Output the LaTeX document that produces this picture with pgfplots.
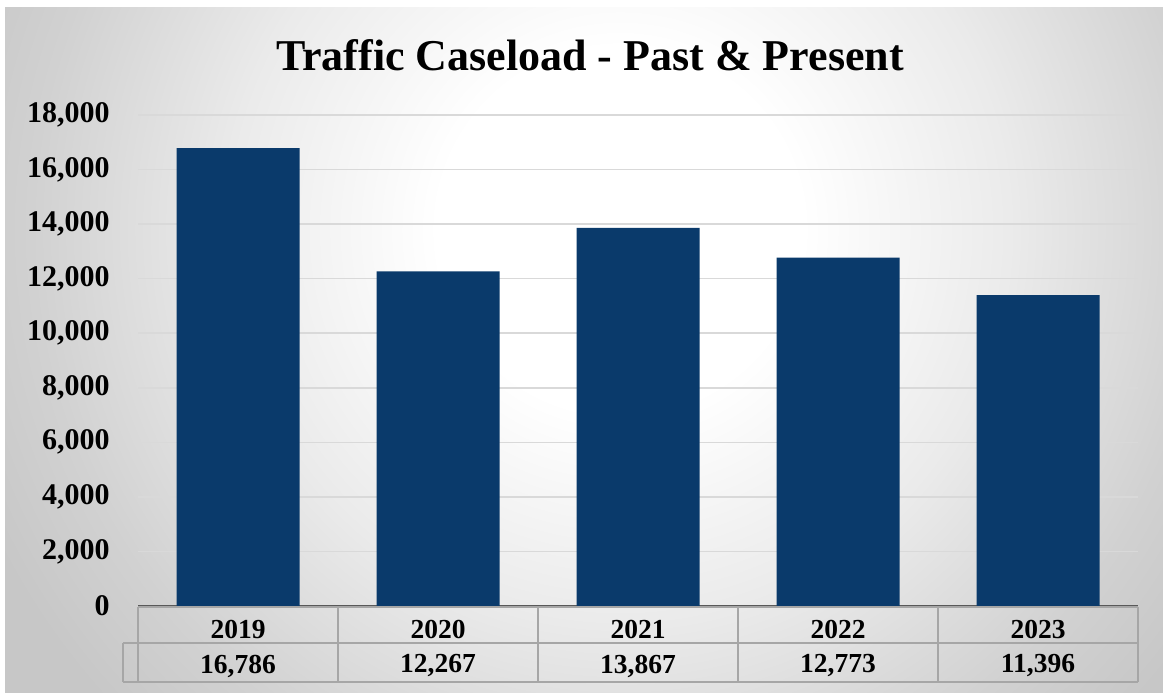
\documentclass[border=0pt]{standalone}
\usepackage{fontspec}
\setmainfont{Liberation Serif}
\usepackage{pgfplots}
\pgfplotsset{compat=1.18}
\definecolor{barblue}{HTML}{0A3A6B}
\definecolor{gridgray}{HTML}{D9D9D9}
\definecolor{tablegray}{HTML}{A6A6A6}
\definecolor{axisgray}{HTML}{595959}
% tikz maps +-25bp of the shading onto the path box
\pgfdeclareradialshading{bgshade}{\pgfpoint{0bp}{0bp}}{color(0bp)=(white); color(6.5bp)=(white); color(14bp)=(black!8); color(21bp)=(black!18); color(25bp)=(black!22); color(50bp)=(black!22)}

\begin{document}
\begin{tikzpicture}
% background (1px = 0.5pt, origin top-left)
\useasboundingbox (0,0) rectangle (581.5pt,-346pt);
\fill[white] (0,0) rectangle (581.5pt,-346pt);
\begin{scope}
\clip (2.5pt,-3.5pt) rectangle (581.5pt,-346pt);
\shade[shading=bgshade] (-40pt,-465pt) rectangle (660pt,235pt);
\end{scope}

\node[font=\bfseries\fontsize{22}{26}\selectfont] at (295pt,-27.5pt) {Traffic Caseload - Past \& Present};

\begin{axis}[
  at={(69pt,-303pt)}, anchor=south west,
  scale only axis, width=500pt, height=245.5pt,
  xmin=-0.5, xmax=4.5, ymin=0, ymax=18000,
  ytick={0,2000,...,18000},
  xtick={0,1,2,3,4},
  xticklabels={2019,2020,2021,2022,2023},
  extra x ticks={0,1,2,3,4},
  extra x tick labels={{16,786},{12,267},{13,867},{12,773},{11,396}},
  extra x tick style={xticklabel style={yshift=-18.5pt}},
  major tick length=0pt,
  axis x line*=bottom, axis y line*=left,
  y axis line style={draw=none},
  x axis line style={draw=axisgray, line width=1.2pt},
  ymajorgrids, grid style={gridgray, line width=0.8pt},
  scaled y ticks=false,
  /pgf/number format/.cd, assume math mode=true, 1000 sep={,},
  /pgfplots/.cd,
  yticklabel style={font=\bfseries\fontsize{15}{18}\selectfont, anchor=east, inner sep=0pt, xshift=-14pt},
  xticklabel style={font=\bfseries\fontsize{13.75}{16}\selectfont, anchor=center, inner sep=0pt, yshift=-11.5pt},
  clip=false,
]
\addplot[ybar, bar width=61.5pt, fill=barblue, draw=none] coordinates {
  (0,16786) (1,12267) (2,13867) (3,12773) (4,11396)
};
\end{axis}

% data table grid
\begin{scope}[tablegray, line width=0.75pt]
\draw (69pt,-303.5pt) -- (569pt,-303.5pt);
\draw (61.5pt,-321.5pt) -- (569pt,-321.5pt);
\draw (61.5pt,-341pt) -- (569pt,-341pt);
\draw (61.5pt,-321.5pt) -- (61.5pt,-341pt);
\foreach \xx in {69,169,269,369,469,569}
  \draw (\xx pt,-303.5pt) -- (\xx pt,-341pt);
\end{scope}
\end{tikzpicture}
\end{document}
